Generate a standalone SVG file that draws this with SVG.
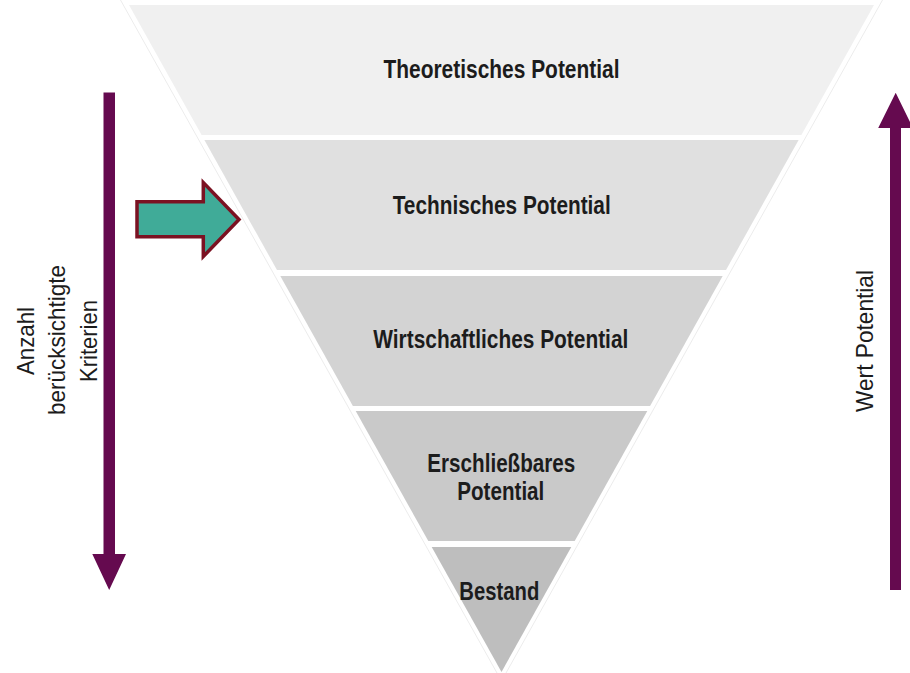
<svg xmlns="http://www.w3.org/2000/svg" width="910" height="673" viewBox="0 0 910 673">
  <style>
    .band-label { font-family: "Liberation Sans", Arial, sans-serif; font-weight: bold; font-size: 25px; fill: #1c1c1c; }
    .side-label { font-family: "Liberation Sans", Arial, sans-serif; font-size: 24px; fill: #1c1c1c; }
    .axis { fill: #650a4f; }
    .edge { stroke: #ececec; stroke-width: 1; fill: none; }
  </style>
  <rect width="910" height="673" fill="#ffffff"/>

  <!-- faint outline along the funnel sides -->
  <line class="edge" x1="120.5" y1="0" x2="497" y2="673"/>
  <line class="edge" x1="882.5" y1="0" x2="506" y2="673"/>

  <!-- funnel levels, widest at the top -->
  <g id="theoretisches-potential">
    <polygon points="129,5 874,5 801.4,135 201.6,135" fill="#f0f0f0"/>
    <text class="band-label" x="383.5" y="78" textLength="236" lengthAdjust="spacingAndGlyphs">Theoretisches Potential</text>
  </g>
  <g id="technisches-potential">
    <polygon points="204.4,140 798.6,140 726,270 277,270" fill="#e0e0e0"/>
    <text class="band-label" x="392.7" y="213.5" textLength="218" lengthAdjust="spacingAndGlyphs">Technisches Potential</text>
  </g>
  <g id="wirtschaftliches-potential">
    <polygon points="280.3,276 722.7,276 650.1,406 352.9,406" fill="#d3d3d3"/>
    <text class="band-label" x="373.3" y="348" textLength="255" lengthAdjust="spacingAndGlyphs">Wirtschaftliches Potential</text>
  </g>
  <g id="erschliessbares-potential">
    <polygon points="355.7,411 647.3,411 574.7,541 428.3,541" fill="#c9c9c9"/>
    <text class="band-label" x="427.3" y="471.5" textLength="148" lengthAdjust="spacingAndGlyphs">Erschließbares</text>
    <text class="band-label" x="457.3" y="499.5" textLength="87" lengthAdjust="spacingAndGlyphs">Potential</text>
  </g>
  <g id="bestand">
    <polygon points="431.7,547 571.3,547 501.5,672" fill="#bebebe"/>
    <text class="band-label" x="459.3" y="599.5" textLength="80" lengthAdjust="spacingAndGlyphs">Bestand</text>
  </g>

  <!-- pointer at the technical level -->
  <g id="focus-arrow">
    <polygon points="137,201.8 203.3,201.8 203.3,182.5 239,219.5 203.3,256.5 203.3,236.8 137,236.8" fill="#40ab98" stroke="#7b1222" stroke-width="3.5" stroke-linejoin="miter"/>
  </g>

  <!-- axis labels -->
  <g id="label-kriterien">
    <text class="side-label" transform="translate(33.5,341) rotate(-90)" x="-34" y="0" textLength="68" lengthAdjust="spacingAndGlyphs">Anzahl</text>
    <text class="side-label" transform="translate(65,340) rotate(-90)" x="-75" y="0" textLength="150" lengthAdjust="spacingAndGlyphs">berücksichtigte</text>
    <text class="side-label" transform="translate(96.5,341) rotate(-90)" x="-41" y="0" textLength="82" lengthAdjust="spacingAndGlyphs">Kriterien</text>
  </g>
  <g id="label-wert">
    <text class="side-label" transform="translate(872.5,341) rotate(-90)" x="-71" y="0" textLength="142" lengthAdjust="spacingAndGlyphs">Wert Potential</text>
  </g>

  <!-- axis arrows -->
  <g id="connectors">
    <polygon class="axis" points="103.5,92.5 115,92.5 115,554 126,554 109.2,590 92.3,554 103.5,554"/>
    <polygon class="axis" points="890,590 901,590 901,128 913,128 895.7,92.7 878.2,128 890,128"/>
  </g>
</svg>
